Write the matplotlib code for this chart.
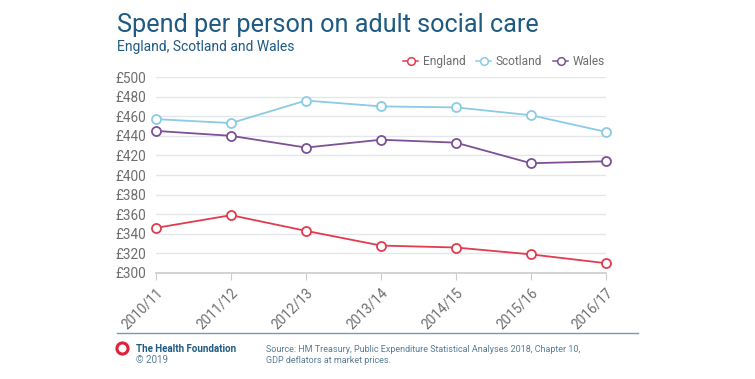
import matplotlib.pyplot as plt
from matplotlib.lines import Line2D

years = ['2010/11', '2011/12', '2012/13', '2013/14', '2014/15', '2015/16', '2016/17']
england = [346, 359, 343, 328, 326, 319, 310]
scotland = [457, 453, 476, 470, 469, 461, 444]
wales = [445, 440, 428, 436, 433, 412, 414]
y_ticks = [300, 320, 340, 360, 380, 400, 420, 440, 460, 480, 500]

plt.rcParams['font.family'] = ['Roboto', 'DejaVu Sans']

fig = plt.figure(figsize=(7.55, 3.79), dpi=100)
ax = fig.add_axes([0.2066, 0.2797, 0.596, 0.5171])

series = [('England', england, '#e23b4e'),
          ('Scotland', scotland, '#8ccbe5'),
          ('Wales', wales, '#7d5195')]
x = list(range(len(years)))
for name, vals, col in series:
    ax.plot(x, vals, color=col, lw=1.3, marker='o', ms=6.5, mfc='white',
            mec=col, mew=1.3, clip_on=False, zorder=3, label=name)

ax.set_xlim(0, len(years) - 1)
ax.set_ylim(300, 500)
ax.set_yticks(y_ticks)
ax.set_yticklabels([f'£{v}' for v in y_ticks])
ax.set_xticks(x)
ax.set_xticklabels(years, rotation=45, ha='right', rotation_mode='anchor')
ax.grid(axis='y', color='#e3e6ea', lw=1)
ax.set_axisbelow(True)
for s in ['top', 'right', 'left']:
    ax.spines[s].set_visible(False)
ax.spines['bottom'].set_color('#cccccc')
ax.spines['bottom'].set_linewidth(1.2)
ax.tick_params(axis='y', length=0, pad=7, labelsize=9.8, labelcolor='#6e6e6e')
ax.tick_params(axis='x', length=5, color='#cccccc', labelsize=9.8, labelcolor='#6e6e6e', pad=4)

handles = [Line2D([0], [0], color=c, lw=1.1, marker='o', ms=5.5, mfc='white', mec=c, mew=1.1)
           for _, _, c in series]
fig.legend(handles, [s[0] for s in series], loc='center right', bbox_to_anchor=(0.812, 0.838),
           ncol=3, frameon=False, fontsize=8.6, labelcolor='#6e6e6e', handlelength=1.3,
           handletextpad=0.35, columnspacing=0.9, borderpad=0.2)

title_col = '#1f5a82'
foot_col = '#5a7d95'
fig.text(0.155, 0.915, 'Spend per person on adult social care', fontsize=18.2, color=title_col,
         va='baseline')
fig.text(0.155, 0.865, 'England, Scotland and Wales', fontsize=10, color=title_col, va='baseline')

fig.add_artist(Line2D([0.155, 0.845], [0.122, 0.122], color='#7a9ab0', lw=1))
fig.add_artist(Line2D([0.161], [0.082], marker='o', ms=8, mfc='white', mec='#e0203a', mew=2.2))
fig.text(0.18, 0.072, 'The Health Foundation', fontsize=7.0, fontweight='bold', color=title_col)
fig.text(0.18, 0.042, '© 2019', fontsize=7.0, color=foot_col)
fig.text(0.352, 0.072, 'Source: HM Treasury, Public Expenditure Statistical Analyses 2018, Chapter 10,',
         fontsize=6.45, color=foot_col)
fig.text(0.352, 0.042, 'GDP deflators at market prices.', fontsize=6.45, color=foot_col)

fig.savefig('out.png', dpi=100, facecolor='white')
